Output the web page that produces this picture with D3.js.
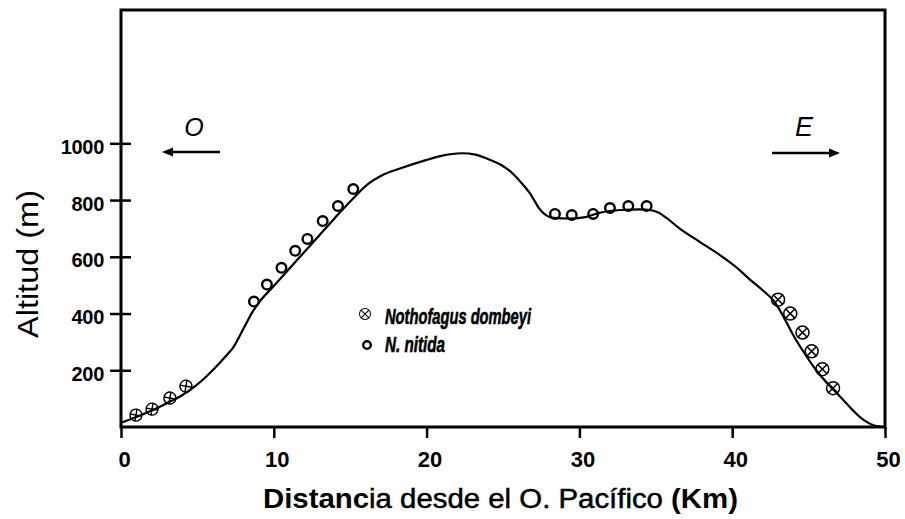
<!DOCTYPE html>
<html>
<head>
<meta charset="utf-8">
<script src="https://cdn.jsdelivr.net/npm/d3@7/dist/d3.min.js"></script>
<style>
  html, body { margin: 0; padding: 0; background: #fff; }
  svg { display: block; }
  text { font-family: "Liberation Sans", Arial, sans-serif; fill: #000; }
</style>
</head>
<body>
<svg id="chart" width="905" height="519"></svg>
<script>
// Elevation profile west -> east (km from the Pacific, altitude m)
const profileKm  = [0, 1, 2, 3, 4, 5, 6, 7, 7.3, 8.0, 8.6, 9.0, 10, 11, 12, 13, 14, 15, 16.2, 17, 18.3, 19.9, 20.9, 22.3, 23.2, 24.0, 24.8, 25.5, 26.1, 26.8, 27.4, 28.3, 29.4, 30.4, 31.3, 32.7, 34.0, 34.6, 35.2, 35.7, 36.5, 37.9, 39.2, 40.2, 41.2, 42.0, 42.7, 44.2, 45.5, 47.1, 48.6, 49.3, 50];
const profileAlt = [15, 35, 58, 84, 112, 150, 200, 258, 277, 345, 405, 437, 497, 557, 617, 677, 737, 795, 858, 885, 912, 940, 955, 965, 960, 945, 926, 900, 867, 821, 768, 737, 735, 740, 755, 765, 767, 765, 755, 737, 702, 652, 606, 566, 518, 482, 446, 305, 200, 105, 25, 5, 0];

// Nothofagus dombeyi stands, western slope
const dombeyiWestKm  = [0.98, 2.03, 3.2, 4.25];
const dombeyiWestAlt = [42, 63, 102, 144];
// Nothofagus dombeyi stands, eastern slope
const dombeyiEastKm  = [43.0, 43.8, 44.6, 45.2, 45.9, 46.6];
const dombeyiEastAlt = [449, 400, 333, 267, 204, 137];
// N. nitida stands
const nitidaKm  = [8.7, 9.55, 10.5, 11.4, 12.2, 13.2, 14.2, 15.2, 28.4, 29.5, 30.9, 32.0, 33.2, 34.4];
const nitidaAlt = [442, 502, 561, 621, 663, 726, 779, 839, 751, 747, 751, 772, 779, 779];

const xTicks = [0, 10, 20, 30, 40, 50];
const yTicks = [200, 400, 600, 800, 1000];
const xTitleParts = [["Distanc", "bold"], ["ia desde el O. Pacífico ", "normal"], ["(Km)", "bold"]];
const yTitle = "Altitud (m)";
const legendLabels = ["Nothofagus dombeyi", "N. nitida"];

const svg = d3.select("#chart");
const L = 121, R = 885, T = 10, B = 427;
const x = d3.scaleLinear().domain([0, 50]).range([L, R]);
const y = d3.scaleLinear().domain([0, 1470]).range([B, T]);

// frame
svg.append("rect").attr("x", L).attr("y", T).attr("width", R - L).attr("height", B - T)
  .attr("fill", "none").attr("stroke", "#000").attr("stroke-width", 3);

// x axis
const gx = svg.append("g").attr("transform", `translate(0,${B})`)
  .call(d3.axisBottom(x).tickValues(xTicks).tickSize(11).tickPadding(0).tickFormat(d3.format("d")));
gx.select(".domain").remove();
gx.selectAll(".tick line").attr("stroke-width", 2.5);
gx.selectAll(".tick text").attr("font-size", 22).attr("font-weight", "bold")
  .attr("font-family", "Liberation Sans, Arial, sans-serif")
  .attr("dy", null).attr("y", 40).attr("dx", 3);

// y axis
const gy = svg.append("g").attr("transform", `translate(${L},0)`)
  .call(d3.axisLeft(y).tickValues(yTicks).tickSize(11).tickFormat(d3.format("d")));
gy.select(".domain").remove();
gy.selectAll(".tick line").attr("x1", 10).attr("x2", -11).attr("stroke-width", 2.5);
gy.selectAll(".tick text").attr("font-size", 20).attr("font-weight", "bold")
  .attr("font-family", "Liberation Sans, Arial, sans-serif")
  .attr("x", -17).attr("dy", null).attr("y", 10).attr("letter-spacing", -0.3);

// axis titles
const xt = svg.append("text").attr("x", 263).attr("y", 508).attr("font-size", 27)
  .attr("textLength", 475).attr("lengthAdjust", "spacingAndGlyphs");
xTitleParts.forEach(([s, w]) => xt.append("tspan").attr("font-weight", w)
  .attr("stroke", w === "normal" ? "#000" : "none").attr("stroke-width", 0.5).text(s));

svg.append("text").attr("transform", "translate(38,264) rotate(-90)")
  .attr("text-anchor", "middle").attr("font-size", 30)
  .attr("textLength", 148).attr("lengthAdjust", "spacingAndGlyphs").text(yTitle);

// elevation profile
const profile = profileKm.map((k, i) => [k, profileAlt[i]]);
svg.append("path").datum(profile)
  .attr("fill", "none").attr("stroke", "#000").attr("stroke-width", 2.2)
  .attr("stroke-linejoin", "round")
  .attr("d", d3.line().x(d => x(d[0])).y(d => y(d[1])).curve(d3.curveMonotoneX));

// marker helpers
function crossedCircle(g, cx, cy, r, rot, sw) {
  const m = g.append("g").attr("transform", `translate(${cx},${cy}) rotate(${rot})`);
  m.append("circle").attr("r", r).attr("fill", "none").attr("stroke", "#000").attr("stroke-width", sw);
  m.append("line").attr("x1", -r).attr("x2", r).attr("y1", 0).attr("y2", 0)
    .attr("stroke", "#000").attr("stroke-width", sw);
  m.append("line").attr("y1", -r).attr("y2", r).attr("x1", 0).attr("x2", 0)
    .attr("stroke", "#000").attr("stroke-width", sw);
}

const marks = svg.append("g");
dombeyiWestKm.forEach((k, i) => crossedCircle(marks, x(k), y(dombeyiWestAlt[i]), 6, 10, 1.4));
dombeyiEastKm.forEach((k, i) => crossedCircle(marks, x(k), y(dombeyiEastAlt[i]), 6.5, 45, 1.5));

marks.selectAll("circle.nitida").data(nitidaKm.map((k, i) => [k, nitidaAlt[i]])).join("circle")
  .attr("class", "nitida")
  .attr("cx", d => x(d[0])).attr("cy", d => y(d[1])).attr("r", 4.8)
  .attr("fill", "none").attr("stroke", "#000").attr("stroke-width", 2.4);

// legend
crossedCircle(svg, 365, 314, 5.5, 45, 1);
svg.append("circle").attr("cx", 367).attr("cy", 345).attr("r", 3.8)
  .attr("fill", "none").attr("stroke", "#000").attr("stroke-width", 2.4);
svg.append("text").attr("x", 385).attr("y", 324).attr("font-size", 22)
  .attr("font-weight", "bold").attr("font-style", "italic")
  .attr("stroke", "#000").attr("stroke-width", 0.6)
  .attr("textLength", 146).attr("lengthAdjust", "spacingAndGlyphs").text(legendLabels[0]);
svg.append("text").attr("x", 385).attr("y", 352).attr("font-size", 22)
  .attr("font-weight", "bold").attr("font-style", "italic")
  .attr("stroke", "#000").attr("stroke-width", 0.6)
  .attr("textLength", 60).attr("lengthAdjust", "spacingAndGlyphs").text(legendLabels[1]);

// direction arrows
function arrow(x1, x2, yy) {
  const dir = Math.sign(x2 - x1);
  svg.append("line").attr("x1", x1).attr("x2", x2 - dir * 8).attr("y1", yy).attr("y2", yy)
    .attr("stroke", "#000").attr("stroke-width", 2.5);
  svg.append("path")
    .attr("d", `M${x2},${yy} L${x2 - dir * 11},${yy - 4.5} L${x2 - dir * 11},${yy + 4.5} Z`)
    .attr("fill", "#000");
}
arrow(220, 162, 152);
arrow(772, 840, 153);
svg.append("text").attr("x", 194).attr("y", 136).attr("text-anchor", "middle")
  .attr("font-size", 25).attr("font-style", "italic").text("O");
svg.append("text").attr("x", 804).attr("y", 136).attr("text-anchor", "middle")
  .attr("font-size", 27).attr("font-style", "italic").text("E");
</script>
</body>
</html>
